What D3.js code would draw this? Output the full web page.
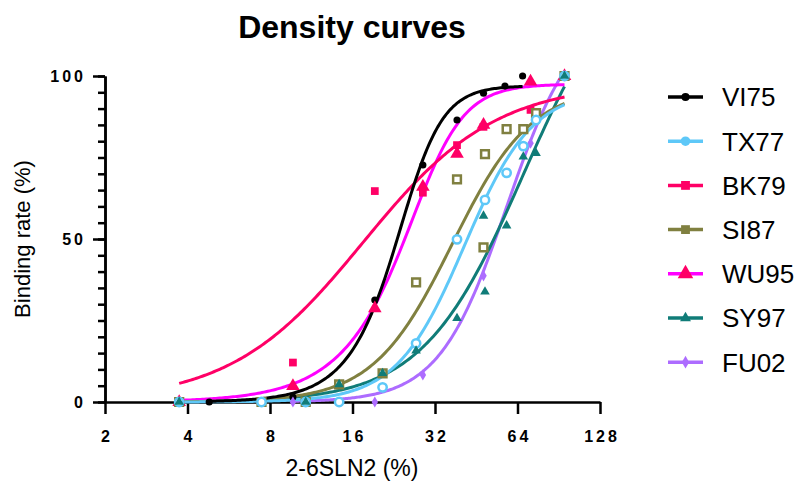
<!DOCTYPE html>
<html>
<head>
<meta charset="utf-8">
<script src="https://cdn.jsdelivr.net/npm/d3@7"></script>
<style>
  body { margin: 0; background: #fff; }
  text { font-family: "Liberation Sans", Arial, sans-serif; }
</style>
</head>
<body>
<svg id="chart" width="800" height="492"></svg>
<script>
// data: [2-6SLN2 %, binding rate %]
const names = ['VI75', 'TX77', 'BK79', 'SI87', 'WU95', 'SY97', 'FU02'];

const VI75 = [[4.8, 0], [9.7, 1.5], [19.3, 31.3], [28.9, 72.7], [38.5, 86.5], [48.1, 94.7], [57.6, 96.9], [66.8, 100]];
const TX77 = [[3.73, 0], [7.45, 0], [10.8, 0], [14.3, 0], [20.6, 4.5], [27.3, 18.0], [38.5, 49.9], [48.7, 62.0], [58.4, 70.3], [67.2, 78.5], [74.8, 86.5], [95, 100]];
const BK79 = [[3.73, 0], [9.7, 12.1], [19.3, 64.7], [28.9, 64.2], [38.5, 78.8], [48.1, 84.4], [71.4, 89.6], [95, 100]];
const SI87 = [[3.73, 0], [7.45, 0], [10.8, 0], [14.3, 5.4], [20.6, 8.8], [27.3, 36.7], [38.5, 68.3], [48.1, 47.4], [48.7, 76.0], [58.4, 83.7], [67.2, 83.7], [74.8, 88.6], [95, 100]];
const WU95 = [[3.73, 0], [9.7, 4.9], [19.3, 28.7], [28.9, 66.0], [38.5, 76.1], [48.1, 85.0], [71.4, 98.3], [95, 100]];
const SY97 = [[3.73, 0], [10.8, 0], [14.3, 5.4], [20.6, 8.8], [27.3, 15.7], [38.5, 25.7], [48.1, 57.1], [48.7, 33.8], [58.4, 54.1], [67.2, 75.2], [74.8, 76.3], [95, 100]];
const FU02 = [[9.7, 0], [19.3, 0], [28.9, 8.3], [48.1, 38.7], [71.4, 79.4], [95, 100]];

// fitted sigmoid parameters (estimated from the drawn curves)
const fitTop  = [97, 96, 98, 97, 97.5, 140, 120];
const fitEC50 = [26.2, 41, 17.5, 37, 30.5, 67.4, 58.5];
const fitHill = [6, 3.5, 1.8, 3, 5, 2.35, 3.5];
const fitAsym = [0.6, 1, 1, 1, 0.5, 1, 1];

const xTicks = [2, 4, 8, 16, 32, 64, 128];
const yMajor = [0, 50, 100];
const yMinor = d3.range(0, 101, 5);

const allData = [VI75, TX77, BK79, SI87, WU95, SY97, FU02];

// styles
const lineColor = ['#000000', '#5ec8f8', '#ff0066', '#808040', '#ff00ff', '#107c78', '#ad6cff'];
const markColor = ['#000000', '#5ec8f8', '#ff0066', '#808040', '#ff0066', '#107c78', '#ad6cff'];
const markType  = [d3.symbolCircle, d3.symbolCircle, d3.symbolSquare, d3.symbolSquare, d3.symbolTriangle, d3.symbolTriangle, d3.symbolDiamond];
const markSize  = [40, 55, 60, 60, 80, 40, 36];
const markOpen  = [false, true, false, true, false, false, false];

const svg = d3.select('#chart');

const x = d3.scaleLog().base(2).domain([2, 128]).range([105, 600]);
const y = d3.scaleLinear().domain([0, 100]).range([402, 76]);

// title
svg.append('text')
    .attr('x', 352).attr('y', 38)
    .attr('text-anchor', 'middle')
    .style('font-size', '32px').style('font-weight', 'bold')
    .text('Density curves');

// axes
const xAxis = svg.append('g')
    .attr('transform', 'translate(0,402)')
    .call(d3.axisBottom(x).tickValues(xTicks).tickFormat(d3.format('d'))
        .tickSize(12).tickSizeOuter(0).tickPadding(17));

const yMinorAxis = svg.append('g')
    .attr('transform', 'translate(105,0)')
    .call(d3.axisLeft(y).tickValues(yMinor).tickFormat('').tickSize(7).tickSizeOuter(0));

const yAxis = svg.append('g')
    .attr('transform', 'translate(105,0)')
    .call(d3.axisLeft(y).tickValues(yMajor).tickSize(12).tickSizeOuter(0).tickPadding(7));

[xAxis, yAxis, yMinorAxis].forEach(g => {
    g.selectAll('path, line').attr('stroke', '#000').attr('stroke-width', 2.5);
    g.selectAll('text')
        .attr('fill', '#000')
        .style('font-size', '16px').style('font-weight', 'bold')
        .style('letter-spacing', '3px');
});
xAxis.selectAll('text').attr('dx', '1.5px');

// axis titles
svg.append('text')
    .attr('x', 352).attr('y', 476)
    .attr('text-anchor', 'middle')
    .style('font-size', '23px')
    .text('2-6SLN2 (%)');

svg.append('text')
    .attr('transform', 'translate(30,239) rotate(-90)')
    .attr('text-anchor', 'middle')
    .style('font-size', '22px')
    .text('Binding rate (%)');

// fitted curves
function sigmoid(i, v) {
    return fitTop[i] / Math.pow(1 + Math.pow(fitEC50[i] / v, fitHill[i]), fitAsym[i]);
}

const line = d3.line().x(d => x(d[0])).y(d => y(d[1]));
const curves = svg.append('g');

for (let i = allData.length - 1; i >= 0; i--) {
    const xs = allData[i].map(d => d[0]);
    const lo = Math.log(d3.min(xs)), hi = Math.log(d3.max(xs));
    const pts = d3.range(0, 201).map(k => {
        const v = Math.exp(lo + (hi - lo) * k / 200);
        return [v, sigmoid(i, v)];
    });
    curves.append('path')
        .attr('d', line(pts))
        .attr('fill', 'none')
        .attr('stroke', lineColor[i])
        .attr('stroke-width', 3);
}

// data points
const drawOrder = [0, 2, 4, 6, 3, 1, 5];
drawOrder.forEach(i => {
    svg.append('g').selectAll('path')
        .data(allData[i])
        .join('path')
        .attr('transform', d => `translate(${x(d[0])},${y(d[1])})`)
        .attr('d', d3.symbol().type(markType[i]).size(markSize[i]))
        .attr('fill', markOpen[i] ? '#fff' : markColor[i])
        .attr('stroke', markOpen[i] ? markColor[i] : 'none')
        .attr('stroke-width', markOpen[i] ? 2.5 : 0);
});

// legend
const legend = svg.append('g');
names.forEach((name, i) => {
    const ly = 97 + i * 44.2;
    const row = legend.append('g').attr('transform', `translate(0,${ly})`);
    row.append('line')
        .attr('x1', 668).attr('x2', 703)
        .attr('stroke', lineColor[i]).attr('stroke-width', 3.5);
    row.append('path')
        .attr('transform', 'translate(685.5,0)')
        .attr('d', d3.symbol().type(markType[i]).size(markSize[i] * 1.3))
        .attr('fill', markColor[i]);
    row.append('text')
        .attr('x', 722).attr('y', 0).attr('dy', '0.36em')
        .style('font-size', '26px')
        .text(name);
});
</script>
</body>
</html>
